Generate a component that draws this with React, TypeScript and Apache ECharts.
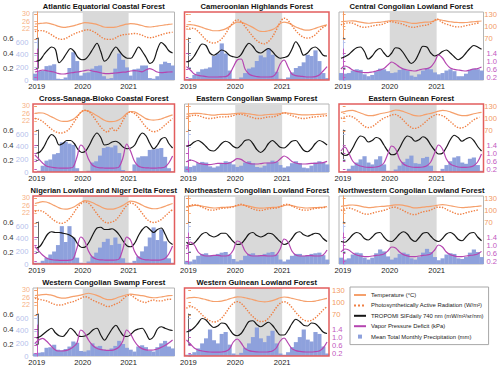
import React, { useEffect, useRef } from 'react';
import * as echarts from 'echarts';

// x axis: months since Jan 2019 (Dec 2018 = -1 ... Jan 2022 = 36)
const YEAR_TICKS = [0, 12, 24];
const TEMP_TICKS = [22, 26, 30];
const PAR_TICKS = [70, 100, 130];
const SIF_TICKS = [0.2, 0.4, 0.6];
const PRECIP_TICKS = [0, 200, 400, 600];
const VPD_TICKS = [0.2, 0.6, 1.0, 1.4];
const SHADE_START = 12;
const SHADE_END = 24;

// Each series: Dec 2018, then Jan..Dec 2019, Jan..Dec 2020, Jan..Dec 2021
const atlanticTemp = [24.6, 24.8,25.0,25.2,24.8,24.2,23.5,22.9,22.8,23.2,23.6,24.2,24.8, 25.3,25.2,24.9,24.5,23.8,23.0,22.8,22.8,22.9,23.4,24.0,24.5, 24.8,24.7,24.3,23.8,23.2,23.0,23.2,23.5,23.8,24.1,24.4,24.6];
const atlanticPar = [88, 90,90,87,82,76,71,69,71,76,81,85,88, 91,92,89,84,77,71,69,69,72,77,80,81, 82,83,82,79,75,73,74,77,80,83,85,86];
const atlanticSif = [0.29, 0.31,0.38,0.44,0.48,0.45,0.27,0.32,0.40,0.46,0.42,0.34,0.31, 0.32,0.38,0.46,0.53,0.42,0.29,0.33,0.42,0.48,0.42,0.36,0.33, 0.33,0.40,0.48,0.42,0.34,0.26,0.30,0.45,0.54,0.50,0.43,0.40];
const atlanticVpd = [0.45, 0.50,0.55,0.52,0.48,0.45,0.38,0.35,0.36,0.40,0.42,0.45,0.48, 0.52,0.55,0.50,0.47,0.42,0.38,0.37,0.38,0.40,0.42,0.44,0.46, 0.50,0.52,0.50,0.46,0.55,0.62,0.55,0.45,0.42,0.43,0.45,0.46];
const atlanticPrecip = [100, 140,150,220,230,250,20,15,40,190,440,300,70, 110,120,180,220,230,60,20,30,180,420,320,200, 70,170,180,230,230,30,20,60,250,290,270,230];

const cameroonTemp = [24.2, 24.3,24.0,23.5,22.8,22.0,21.5,21.0,21.0,21.3,22.0,23.2,24.6, 25.6,25.5,24.8,23.8,22.8,21.5,20.7,20.6,21.0,21.6,22.8,24.8, 25.6,25.2,24.2,23.0,22.2,21.5,21.3,21.6,22.3,23.0,23.6,24.1];
const cameroonPar = [93, 96,95,88,78,68,62,60,63,70,82,98,110, 116,112,100,88,76,66,60,58,64,75,92,110, 120,115,102,90,80,74,72,74,80,90,98,104];
const cameroonSif = [0.28, 0.30,0.36,0.45,0.52,0.50,0.40,0.37,0.40,0.44,0.42,0.37,0.35, 0.34,0.38,0.47,0.53,0.49,0.42,0.40,0.43,0.46,0.42,0.36,0.33, 0.34,0.36,0.45,0.55,0.48,0.37,0.40,0.46,0.48,0.44,0.37,0.36];
const cameroonVpd = [0.72, 0.55,0.35,0.28,0.25,0.22,0.2,0.2,0.2,0.21,0.22,0.35,0.7, 1.05,1.1,0.6,0.35,0.26,0.22,0.2,0.2,0.2,0.22,0.4,0.85, 1.05,0.7,0.35,0.27,0.24,0.22,0.2,0.2,0.22,0.3,0.5,0.72];
const cameroonPrecip = [20, 30,80,130,170,180,200,380,420,580,420,150,20, 10,40,110,180,200,300,390,360,500,400,130,20, 10,40,120,190,220,280,400,380,470,300,110,30];

const centralTemp = [25.8, 26.0,26.2,26.3,26.0,25.6,25.2,25.0,25.2,25.4,25.5,25.8,26.2, 26.4,26.3,26.2,25.9,25.5,25.0,24.9,25.2,25.5,25.6,25.8,26.4, 27.0,26.6,26.1,25.8,25.5,25.4,25.3,25.4,25.6,25.8,26.0,26.2];
const centralPar = [104, 107,109,108,104,100,98,99,101,103,104,106,110, 112,110,108,106,102,99,98,100,102,103,106,112, 118,112,107,104,101,99,99,101,103,105,107,109];
const centralSif = [0.33, 0.35,0.38,0.43,0.47,0.48,0.42,0.32,0.36,0.43,0.46,0.40,0.35, 0.40,0.47,0.46,0.40,0.32,0.26,0.30,0.40,0.49,0.48,0.40,0.36, 0.38,0.42,0.44,0.40,0.35,0.31,0.34,0.40,0.46,0.50,0.48,0.45];
const centralVpd = [0.6, 0.75,0.68,0.55,0.48,0.45,0.42,0.42,0.45,0.5,0.55,0.62,0.8, 0.95,0.85,0.7,0.6,0.55,0.52,0.5,0.55,0.6,0.62,0.7,0.95, 1.3,1.15,0.85,0.65,0.58,0.55,0.52,0.5,0.55,0.6,0.62,0.7];
const centralPrecip = [110, 100,110,150,170,160,90,60,80,140,180,170,140, 110,120,160,180,150,70,50,90,150,190,170,120, 90,110,150,170,140,60,60,100,160,180,170,150];

const crossTemp = [26.0, 26.3,26.2,25.5,24.5,23.5,22.5,21.8,21.7,22.0,22.8,24.5,26.5, 27.6,27.2,26.2,25.0,23.8,22.5,21.7,21.6,21.8,22.6,24.0,26.0, 27.0,26.8,25.8,24.5,23.2,22.6,22.4,22.6,23.0,23.8,24.5,25.2];
const crossPar = [100, 98,93,85,77,70,66,65,68,75,88,102,115, 120,117,108,95,82,72,67,78,70,78,95,110, 116,112,104,92,80,72,68,70,76,84,92,100];
const crossSif = [0.29, 0.31,0.38,0.48,0.54,0.50,0.40,0.42,0.46,0.46,0.42,0.34,0.30, 0.32,0.40,0.50,0.56,0.50,0.40,0.41,0.44,0.45,0.42,0.37,0.35, 0.36,0.40,0.50,0.56,0.52,0.42,0.35,0.40,0.48,0.50,0.42,0.36];
const crossVpd = [0.9, 0.7,0.5,0.35,0.3,0.27,0.25,0.24,0.24,0.25,0.3,0.8,1.4, 1.2,0.7,0.4,0.3,0.26,0.25,0.24,0.24,0.25,0.3,0.75,1.45, 1.1,0.6,0.35,0.28,0.26,0.25,0.24,0.25,0.26,0.3,0.5,0.85];
const crossPrecip = [0, 20,100,180,200,280,300,470,480,450,430,60,5, 0,20,150,170,260,380,400,390,420,300,30,0, 10,120,230,250,250,350,360,370,380,240,60,10];

const ecSwampTemp = [25.6, 25.8,26.0,26.0,25.8,25.5,25.2,25.1,25.3,25.5,25.5,25.6,25.8, 26.0,26.1,26.0,25.7,25.4,25.1,25.0,25.2,25.4,25.5,25.6,25.9, 26.3,26.2,25.9,25.6,25.3,25.2,25.2,25.3,25.4,25.5,25.6,25.8];
const ecSwampPar = [104, 106,108,107,104,101,100,101,103,104,104,105,107, 110,110,108,105,102,100,100,102,104,104,106,110, 114,111,107,104,101,100,101,103,104,105,106,107];
const ecSwampSif = [0.38, 0.40,0.44,0.46,0.43,0.38,0.33,0.32,0.36,0.42,0.45,0.43,0.38, 0.36,0.40,0.46,0.47,0.42,0.34,0.30,0.34,0.42,0.46,0.42,0.37, 0.36,0.40,0.45,0.46,0.40,0.33,0.31,0.35,0.42,0.46,0.44,0.40];
const ecSwampVpd = [0.55, 0.65,0.6,0.5,0.45,0.42,0.42,0.45,0.48,0.48,0.47,0.5,0.6, 0.72,0.68,0.55,0.48,0.45,0.45,0.47,0.5,0.5,0.5,0.55,0.7, 0.85,0.75,0.58,0.5,0.46,0.45,0.46,0.48,0.48,0.5,0.52,0.58];
const ecSwampPrecip = [90, 80,100,140,160,150,90,70,90,140,170,160,120, 80,100,150,170,140,80,70,100,150,180,160,110, 70,90,140,170,140,70,60,100,150,170,150,120];

const eGuineanTemp = [26.5, 27.0,27.5,27.6,27.0,26.2,25.4,24.8,24.8,25.2,25.8,26.2,26.6, 27.2,27.8,27.6,27.0,26.2,25.4,24.8,24.6,25.0,25.6,26.0,26.6, 27.2,27.6,27.4,26.8,26.0,25.2,24.8,24.8,25.2,25.8,26.2,26.5];
const eGuineanPar = [100, 104,106,104,98,90,82,78,80,86,94,100,104, 108,110,106,98,88,80,76,78,84,92,100,106, 110,108,104,96,88,80,77,79,85,93,99,103];
const eGuineanSif = [0.30, 0.26,0.28,0.36,0.46,0.52,0.50,0.44,0.46,0.50,0.48,0.40,0.32, 0.27,0.28,0.36,0.46,0.52,0.50,0.45,0.47,0.51,0.48,0.40,0.33, 0.28,0.29,0.37,0.47,0.53,0.50,0.45,0.48,0.50,0.46,0.38,0.32];
const eGuineanVpd = [1.1, 1.3,1.0,0.6,0.42,0.35,0.3,0.28,0.28,0.3,0.35,0.5,0.95, 1.35,1.2,0.7,0.45,0.35,0.3,0.28,0.28,0.3,0.36,0.55,1.0, 1.4,1.2,0.7,0.45,0.36,0.3,0.28,0.28,0.3,0.36,0.55,0.95];
const eGuineanPrecip = [10, 15,50,100,150,200,250,150,120,200,250,120,20, 10,40,100,160,210,260,140,130,220,240,100,15, 10,50,110,170,230,250,150,130,210,230,110,20];

const nigerianTemp = [27.0, 27.5,28.0,27.8,27.0,26.0,25.0,24.2,24.0,24.3,25.0,26.2,27.5, 28.5,28.3,27.5,26.5,25.5,24.5,24.0,24.0,24.3,25.0,26.0,27.3, 28.3,28.0,27.2,26.2,25.2,24.5,24.2,24.3,24.8,25.5,26.3,27.0];
const nigerianPar = [97, 100,98,92,84,76,71,69,72,80,92,106,116, 121,118,108,95,83,74,70,72,76,86,100,112, 118,115,106,94,82,74,71,73,78,86,95,102];
const nigerianSif = [0.25, 0.28,0.36,0.44,0.47,0.46,0.46,0.45,0.44,0.42,0.38,0.30,0.26, 0.27,0.34,0.44,0.52,0.53,0.50,0.50,0.51,0.48,0.42,0.34,0.28, 0.27,0.32,0.42,0.50,0.54,0.50,0.46,0.50,0.52,0.44,0.34,0.30];
const nigerianVpd = [0.92, 0.7,0.5,0.35,0.28,0.25,0.24,0.23,0.23,0.24,0.3,0.85,1.4, 1.2,0.7,0.4,0.3,0.26,0.25,0.24,0.24,0.25,0.3,0.8,1.4, 1.25,0.7,0.4,0.3,0.26,0.25,0.24,0.24,0.26,0.32,0.55,0.95];
const nigerianPrecip = [20, 20,50,100,150,200,300,600,350,600,420,100,20, 10,40,120,180,260,350,400,300,420,320,90,20, 20,50,120,200,280,420,580,380,550,360,90,20];

const neCongoTemp = [25.2, 25.6,26.0,26.0,25.6,25.2,24.8,24.6,24.7,24.9,25.0,25.1,25.4, 25.8,26.2,26.0,25.6,25.1,24.7,24.5,24.6,24.8,24.9,25.0,25.3, 25.9,26.2,25.9,25.4,25.0,24.7,24.6,24.7,24.8,24.9,25.0,25.3];
const neCongoPar = [108, 112,114,112,108,104,101,101,103,105,106,107,109, 113,115,112,108,104,101,100,102,104,105,106,109, 114,115,111,107,103,101,101,103,105,106,107,109];
const neCongoSif = [0.33, 0.30,0.32,0.38,0.44,0.46,0.42,0.40,0.42,0.45,0.45,0.40,0.34, 0.30,0.31,0.37,0.44,0.46,0.42,0.40,0.42,0.45,0.44,0.39,0.34, 0.30,0.32,0.38,0.45,0.47,0.43,0.41,0.43,0.45,0.44,0.38,0.34];
const neCongoVpd = [0.8, 1.15,1.0,0.65,0.5,0.45,0.45,0.48,0.48,0.45,0.45,0.5,0.75, 1.2,1.1,0.7,0.5,0.45,0.45,0.47,0.47,0.45,0.45,0.5,0.8, 1.3,1.15,0.7,0.5,0.45,0.45,0.47,0.47,0.45,0.45,0.5,0.75];
const neCongoPrecip = [50, 40,70,130,160,170,140,140,160,180,190,150,80, 40,60,130,160,170,140,130,160,180,190,150,70, 40,70,130,160,160,130,140,160,170,180,140,70];

const nwCongoTemp = [25.5, 25.8,26.1,26.2,26.0,25.6,25.1,24.8,24.9,25.2,25.4,25.5,25.7, 26.0,26.3,26.3,26.0,25.6,25.0,24.7,24.8,25.1,25.3,25.5,25.8, 26.2,26.4,26.2,25.8,25.4,25.0,24.8,24.9,25.1,25.3,25.5,25.7];
const nwCongoPar = [100, 104,106,104,100,96,92,91,93,96,98,100,103, 107,108,105,101,96,92,90,92,96,98,100,104, 108,108,105,100,96,92,91,93,96,98,100,102];
const nwCongoSif = [0.34, 0.33,0.37,0.43,0.46,0.44,0.38,0.36,0.40,0.45,0.46,0.40,0.35, 0.34,0.38,0.44,0.47,0.44,0.37,0.34,0.39,0.45,0.46,0.41,0.36, 0.34,0.38,0.44,0.46,0.43,0.37,0.35,0.40,0.45,0.46,0.40,0.35];
const nwCongoVpd = [0.65, 0.8,0.75,0.6,0.5,0.45,0.42,0.42,0.45,0.48,0.5,0.55,0.7, 0.9,0.85,0.65,0.52,0.46,0.42,0.42,0.45,0.48,0.5,0.55,0.75, 1.0,0.9,0.65,0.52,0.46,0.42,0.42,0.45,0.48,0.5,0.55,0.68];
const nwCongoPrecip = [100, 70,90,150,180,170,100,70,100,170,230,200,120, 70,100,160,180,160,90,70,110,180,240,190,110, 60,90,150,170,160,90,80,110,180,230,190,110];

const wcSwampTemp = [27.0, 27.2,27.5,27.6,27.3,26.8,26.0,25.6,25.6,26.0,26.5,26.8,27.2, 27.8,28.2,27.8,27.2,26.4,25.4,24.8,24.8,25.4,26.2,26.8,27.4, 27.8,27.5,27.2,26.9,26.5,26.0,25.8,25.9,26.2,26.6,26.9,27.0];
const wcSwampPar = [110, 108,106,104,100,96,94,94,97,100,102,106,110, 114,112,106,102,98,94,90,92,96,100,108,116, 118,112,106,102,100,104,106,104,104,106,108,108];
const wcSwampSif = [0.28, 0.30,0.34,0.38,0.41,0.35,0.31,0.30,0.35,0.41,0.37,0.31,0.30, 0.31,0.34,0.39,0.41,0.32,0.25,0.32,0.40,0.45,0.38,0.31,0.30, 0.33,0.38,0.40,0.41,0.34,0.26,0.30,0.40,0.43,0.41,0.39,0.38];
const wcSwampVpd = [0.68, 0.85,0.93,0.8,0.6,0.4,0.3,0.3,0.32,0.38,0.5,0.7,1.35, 1.2,0.85,0.6,0.45,0.38,0.35,0.33,0.33,0.38,0.5,0.8,1.35, 1.15,0.8,0.55,0.42,0.36,0.34,0.35,0.4,0.48,0.58,0.7,0.85];
const wcSwampPrecip = [40, 50,60,130,140,180,100,90,110,150,230,210,80, 70,90,200,150,160,100,80,120,160,240,190,130, 100,70,150,170,140,80,70,140,200,240,150,120];

const wGuineanTemp = [25.5, 25.8,26.0,25.8,25.3,24.8,24.2,23.8,23.8,24.0,24.5,25.2,25.8, 26.3,26.2,25.8,25.3,24.8,24.2,23.8,23.6,23.8,24.3,25.0,25.8, 26.2,26.0,25.5,25.0,24.5,24.0,23.8,23.8,24.0,24.5,25.0,25.5];
const wGuineanPar = [86, 90,88,80,70,62,56,53,55,62,74,88,98, 102,98,88,76,66,58,54,55,62,74,88,98, 102,98,88,76,66,58,55,57,63,72,82,90];
const wGuineanSif = [0.36, 0.38,0.42,0.48,0.54,0.52,0.46,0.42,0.44,0.48,0.47,0.40,0.33, 0.31,0.34,0.42,0.50,0.51,0.46,0.43,0.46,0.49,0.45,0.38,0.32, 0.32,0.38,0.47,0.53,0.50,0.45,0.44,0.48,0.47,0.42,0.36,0.34];
const wGuineanVpd = [0.85, 0.65,0.45,0.35,0.3,0.27,0.25,0.24,0.24,0.25,0.28,0.4,0.75, 0.9,0.7,0.42,0.32,0.28,0.26,0.25,0.25,0.26,0.3,0.45,0.8, 0.95,0.7,0.42,0.32,0.28,0.26,0.25,0.25,0.27,0.3,0.45,0.75];
const wGuineanPrecip = [20, 30,60,120,200,280,420,250,200,350,380,180,40, 20,50,130,200,300,450,280,220,320,400,200,40, 20,60,140,220,300,420,260,230,380,350,150,40];

const TEMP_NAME = 'Temperature (°C)';
const PAR_NAME = 'Photosynthetically Active Radiation (W/m²)';
const SIF_NAME = 'TROPOMI SIFdaily 740 nm (mW/m²/sr/nm)';
const VPD_NAME = 'Vapor Pressure Deficit (kPa)';
const PRECIP_NAME = 'Mean Total Monthly Precipitation (mm)';

const panels = [
  { title: 'Atlantic Equatorial Coastal Forest', row: 0, col: 0, red: false, temp: atlanticTemp, par: atlanticPar, sif: atlanticSif, vpd: atlanticVpd, precip: atlanticPrecip },
  { title: 'Cameroonian Highlands Forest', row: 0, col: 1, red: true, temp: cameroonTemp, par: cameroonPar, sif: cameroonSif, vpd: cameroonVpd, precip: cameroonPrecip },
  { title: 'Central Congolian Lowland Forest', row: 0, col: 2, red: false, temp: centralTemp, par: centralPar, sif: centralSif, vpd: centralVpd, precip: centralPrecip },
  { title: 'Cross-Sanaga-Bioko Coastal Forest', row: 1, col: 0, red: true, temp: crossTemp, par: crossPar, sif: crossSif, vpd: crossVpd, precip: crossPrecip },
  { title: 'Eastern Congolian Swamp Forest', row: 1, col: 1, red: false, temp: ecSwampTemp, par: ecSwampPar, sif: ecSwampSif, vpd: ecSwampVpd, precip: ecSwampPrecip },
  { title: 'Eastern Guinean Forest', row: 1, col: 2, red: true, temp: eGuineanTemp, par: eGuineanPar, sif: eGuineanSif, vpd: eGuineanVpd, precip: eGuineanPrecip },
  { title: 'Nigerian Lowland and Niger Delta Forest', row: 2, col: 0, red: true, temp: nigerianTemp, par: nigerianPar, sif: nigerianSif, vpd: nigerianVpd, precip: nigerianPrecip },
  { title: 'Northeastern Congolian Lowland Forest', row: 2, col: 1, red: false, temp: neCongoTemp, par: neCongoPar, sif: neCongoSif, vpd: neCongoVpd, precip: neCongoPrecip },
  { title: 'Northwestern Congolian Lowland Forest', row: 2, col: 2, red: false, temp: nwCongoTemp, par: nwCongoPar, sif: nwCongoSif, vpd: nwCongoVpd, precip: nwCongoPrecip },
  { title: 'Western Congolian Swamp Forest', row: 3, col: 0, red: false, temp: wcSwampTemp, par: wcSwampPar, sif: wcSwampSif, vpd: wcSwampVpd, precip: wcSwampPrecip },
  { title: 'Western Guinean Lowland Forest', row: 3, col: 1, red: true, temp: wGuineanTemp, par: wGuineanPar, sif: wGuineanSif, vpd: wGuineanVpd, precip: wGuineanPrecip },
];

// layout & styling
const COL_LEFT = [33, 184.5, 339];
const COL_WIDTH = [141.5, 144.5, 144.5];
const ROW_TOP = [12, 104, 196, 288];
const PLOT_H = 68;
const FONT = '"Liberation Sans", Arial, sans-serif';
const RED = '#e25d5d';
const GRAY = '#b4b4b4';
const SHADE = '#d9d9d9';
const TEMP_COLOR = '#f5a06c';
const PAR_COLOR = '#f07f42';
const SIF_COLOR = '#161616';
const VPD_COLOR = '#b545b0';
const PRECIP_COLOR = '#8ea1dc';
const TEMP_AXIS = '#f7b184';
const PRECIP_AXIS = '#b5c1ec';
const PAR_AXIS = '#f39a62';
const VPD_AXIS = '#c257c0';

function yAxisDef(gridIndex: number, c: any) {
  return {
    type: 'value',
    gridIndex,
    position: c.position,
    offset: c.offset || 0,
    min: c.min,
    max: c.max,
    z: 3,
    axisLine: { show: c.showLine, lineStyle: { color: c.lineColor, width: 1 } },
    axisTick: {
      show: true,
      customValues: c.ticks,
      inside: c.inside,
      length: 2.5,
      lineStyle: { color: c.lineColor, width: 1 },
    },
    axisLabel: {
      show: !!c.labels,
      customValues: c.ticks,
      formatter: c.fmt,
      color: c.labelColor,
      fontSize: c.fontSize || 7.6,
      fontFamily: FONT,
      margin: c.margin || 3,
      hideOverlap: false,
      showMinLabel: true,
      showMaxLabel: true,
    },
    splitLine: { show: false },
  };
}

function buildOption() {
  const grid: any[] = [];
  const xAxis: any[] = [];
  const yAxis: any[] = [];
  const series: any[] = [];
  const graphic: any[] = [];

  panels.forEach((p, pi) => {
    const L = COL_LEFT[p.col];
    const W = COL_WIDTH[p.col];
    const T = ROW_TOP[p.row];
    const base = pi * 6;
    const leftLabels = p.col === 0;
    const rightLabels = p.col === 2 || (p.row === 3 && p.col === 1);
    const bands = [
      { top: T, height: PLOT_H },
      { top: T, height: 18.75 },
      { top: T, height: 29 },
      { top: T + 26, height: 30 },
      { top: T + 27, height: 41 },
      { top: T + 37, height: 31 },
    ];
    bands.forEach((b, k) => {
      grid.push({
        left: L, width: W, top: b.top, height: b.height,
        show: k === 0,
        borderColor: p.red ? RED : GRAY,
        borderWidth: p.red ? 1.5 : 1,
        backgroundColor: 'rgba(0,0,0,0)',
        z: k === 0 ? (p.red ? 5 : 0) : 0,
      });
      xAxis.push({
        type: 'value', gridIndex: base + k, min: -1, max: 36,
        show: k === 0,
        axisLine: { show: false }, axisTick: { show: false }, splitLine: { show: false },
        axisLabel: k === 0
          ? { customValues: YEAR_TICKS, formatter: (v: number) => String(2019 + v / 12), color: '#222', fontSize: 7.6, fontFamily: FONT, margin: 2, hideOverlap: false }
          : { show: false },
      });
    });
    const showLines = !p.red;
    yAxis.push({ type: 'value', gridIndex: base, show: false, min: 0, max: 1 });
    yAxis.push(yAxisDef(base + 1, { position: 'left', min: 21, max: 31, ticks: TEMP_TICKS, showLine: showLines, lineColor: TEMP_AXIS, labelColor: TEMP_AXIS, labels: leftLabels, inside: !leftLabels, fontSize: 7.2, fmt: (v: number) => String(v) }));
    yAxis.push(yAxisDef(base + 2, { position: 'right', min: 65, max: 135, ticks: PAR_TICKS, showLine: showLines, lineColor: PAR_AXIS, labelColor: PAR_AXIS, labels: rightLabels, inside: !rightLabels, fmt: (v: number) => String(v) }));
    yAxis.push(yAxisDef(base + 3, { position: 'left', offset: leftLabels ? 18 : 3.5, min: 0.2, max: 0.6, ticks: SIF_TICKS, showLine: true, lineColor: '#666', labelColor: '#333', labels: leftLabels, inside: !leftLabels, fmt: (v: number) => v.toFixed(1) }));
    yAxis.push(yAxisDef(base + 4, { position: 'left', min: 0, max: 650, ticks: PRECIP_TICKS, showLine: showLines, lineColor: PRECIP_AXIS, labelColor: PRECIP_AXIS, labels: leftLabels, inside: !leftLabels, margin: 4.5, fmt: (v: number) => String(v) }));
    yAxis.push(yAxisDef(base + 5, { position: 'right', min: 0.05, max: 1.6, ticks: VPD_TICKS, showLine: showLines, lineColor: VPD_AXIS, labelColor: VPD_AXIS, labels: rightLabels, inside: !rightLabels, fmt: (v: number) => v.toFixed(1) }));

    // shaded year 2020
    series.push({
      type: 'line', xAxisIndex: base, yAxisIndex: base, data: [[SHADE_START, 0.5]],
      symbol: 'none', lineStyle: { opacity: 0 }, silent: true, z: 1,
      markArea: { silent: true, itemStyle: { color: SHADE }, data: [[{ xAxis: SHADE_START }, { xAxis: SHADE_END }]] },
    });
    // precipitation bars (monthly blocks)
    series.push({
      type: 'custom', name: PRECIP_NAME, xAxisIndex: base + 4, yAxisIndex: base + 4, z: 2,
      itemStyle: { color: PRECIP_COLOR },
      data: p.precip.map((v, i) => [i - 0.5, v]),
      renderItem: (_params: any, api: any) => {
        const x = api.value(0) as number;
        const v = api.value(1) as number;
        const a = api.coord([x - 0.5, 0]);
        const b = api.coord([x + 0.5, v]);
        return {
          type: 'rect',
          shape: { x: a[0], y: b[1], width: b[0] - a[0] + 0.3, height: a[1] - b[1] },
          style: { fill: PRECIP_COLOR },
        };
      },
    });
    const line = (name: string, arr: number[], k: number, color: string, type: string, width: number) => ({
      type: 'line', name, xAxisIndex: base + k, yAxisIndex: base + k, z: 3,
      data: arr.map((v, i) => [i - 0.5, v]),
      symbol: 'none', showSymbol: false, smooth: 0.35, clip: false,
      lineStyle: { color, width, type },
      itemStyle: { color },
    });
    series.push(line(TEMP_NAME, p.temp, 1, TEMP_COLOR, 'solid', 1.2));
    series.push(line(PAR_NAME, p.par, 2, PAR_COLOR, 'dotted', 1.4));
    series.push(line(SIF_NAME, p.sif, 3, SIF_COLOR, 'solid', 1.2));
    series.push(line(VPD_NAME, p.vpd, 5, VPD_COLOR, 'solid', 1.2));

    graphic.push({
      type: 'text', x: L + W / 2, y: T - 6, z: 10,
      style: { text: p.title, align: 'center', verticalAlign: 'middle', fontSize: 7.6, fontWeight: 'bold', fontFamily: FONT, fill: '#111' },
    });
  });

  return {
    animation: false,
    backgroundColor: '#ffffff',
    grid, xAxis, yAxis, series, graphic,
    legend: {
      left: 350, top: 287, orient: 'vertical',
      itemWidth: 12, itemHeight: 4, itemGap: 4.4,
      padding: [5, 5, 5, 3],
      borderColor: '#a8a8a8', borderWidth: 1, backgroundColor: '#fff',
      selectedMode: false,
      textStyle: { fontSize: 5.9, color: '#222', fontFamily: FONT },
      data: [
        { name: TEMP_NAME, itemStyle: { opacity: 0 } },
        { name: PAR_NAME, itemStyle: { opacity: 0 } },
        { name: SIF_NAME, itemStyle: { opacity: 0 } },
        { name: VPD_NAME, itemStyle: { opacity: 0 } },
        { name: PRECIP_NAME, icon: 'path://M0,0H1V1H0Z' },
      ],
    },
  };
}

export default function App() {
  const ref = useRef<HTMLDivElement>(null);
  useEffect(() => {
    if (!ref.current) return;
    const chart = echarts.init(ref.current, undefined, { renderer: 'svg' });
    chart.setOption(buildOption() as any);
    return () => chart.dispose();
  }, []);
  return <div ref={ref} style={{ position: 'fixed', left: 0, top: 0, width: 500, height: 367 }} />;
}
